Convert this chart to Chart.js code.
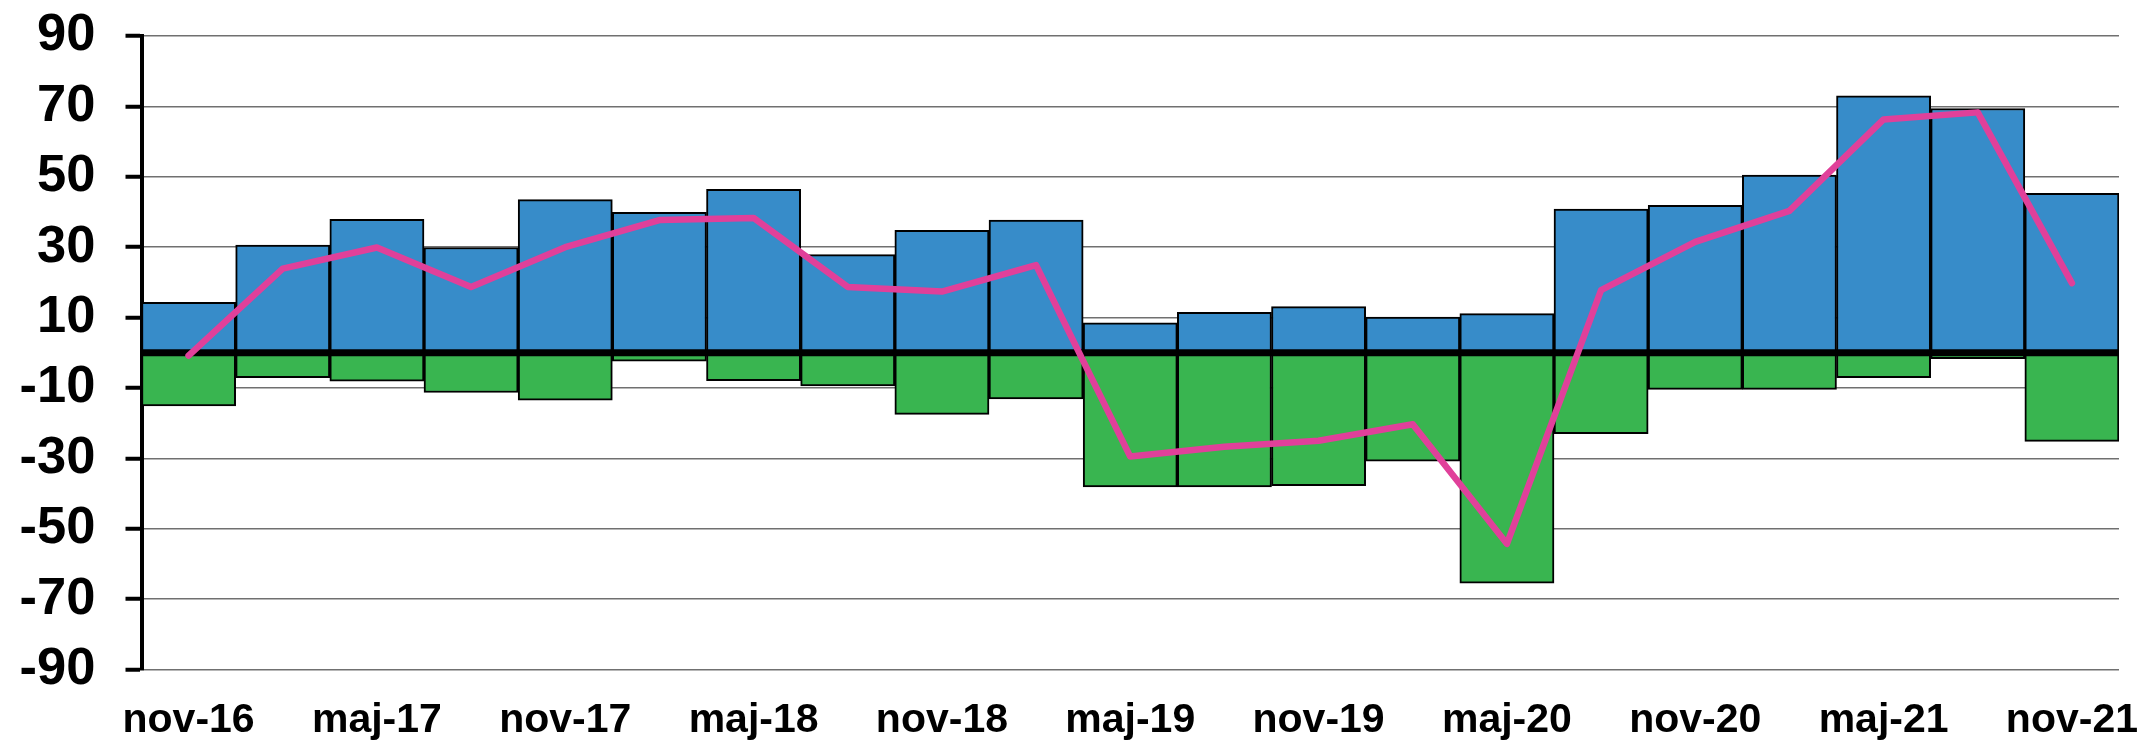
<!DOCTYPE html>
<html lang="da">
<head>
  <meta charset="UTF-8" />
  <title>Nettotal</title>
  <script src="https://cdn.jsdelivr.net/npm/chart.js"></script>
  <style>
    body { margin: 0; background: #fff; }
    #wrap { width: 2141px; height: 745px; }
  </style>
</head>
<body>
  <div id="wrap"><canvas id="chart" width="2141" height="745"></canvas></div>

  <script>
    // kvartaler, nov-16 .. nov-21
    const categories = [
      'nov-16', 'feb-17', 'maj-17', 'aug-17', 'nov-17', 'feb-18', 'maj-18',
      'aug-18', 'nov-18', 'feb-19', 'maj-19', 'aug-19', 'nov-19', 'feb-20',
      'maj-20', 'aug-20', 'nov-20', 'feb-21', 'maj-21', 'aug-21', 'nov-21'
    ];
    const positive = [14.3, 30.6, 37.9, 29.9, 43.5, 39.9, 46.4, 27.9, 34.8, 37.7, 8.5,
                      11.5, 13.1, 10.1, 11.1, 40.8, 41.9, 50.5, 73.0, 69.4, 45.3];
    const negative = [-15.1, -7.1, -8.1, -11.3, -13.5, -2.4, -7.9, -9.4, -17.5, -13.1, -38.1,
                      -38.1, -37.8, -30.8, -65.5, -23.0, -10.4, -10.4, -7.1, -1.7, -25.2];
    const net = [-0.8, 23.9, 29.9, 18.7, 30.0, 37.7, 38.3, 18.7, 17.4, 24.9, -29.5,
                 -26.7, -25.0, -20.3, -54.3, 17.8, 31.5, 40.3, 66.3, 68.3, 19.8];
    const yTicks = [-90, -70, -50, -30, -10, 10, 30, 50, 70, 90];

    const FONT = '"Liberation Sans", Arial, sans-serif';

    // tyk nul-linje over søjlerne, men under kurven
    const zeroLine = {
      id: 'zeroLine',
      beforeDatasetDraw(chart, args) {
        if (args.meta.type !== 'line') return;
        const { ctx, chartArea } = chart;
        const y = chart.scales.y.getPixelForValue(0);
        ctx.save();
        ctx.strokeStyle = '#000';
        ctx.lineWidth = 7;
        ctx.beginPath();
        ctx.moveTo(chartArea.left, y);
        ctx.lineTo(chartArea.right, y);
        ctx.stroke();
        ctx.restore();
      }
    };

    new Chart(document.getElementById('chart'), {
      type: 'bar',
      data: {
        labels: categories,
        datasets: [
          {
            type: 'line', data: net, stack: 'net', order: 0,
            borderColor: '#E0409A', borderWidth: 6.5, pointRadius: 0,
            borderCapStyle: 'round', borderJoinStyle: 'round', tension: 0, fill: false
          },
          {
            data: positive, stack: 'bars', order: 1,
            backgroundColor: '#378CC9', borderColor: '#000', borderWidth: 2, borderSkipped: false,
            barPercentage: 1, categoryPercentage: 1
          },
          {
            data: negative, stack: 'bars', order: 1,
            backgroundColor: '#39B550', borderColor: '#000', borderWidth: 2, borderSkipped: false,
            barPercentage: 1, categoryPercentage: 1
          }
        ]
      },
      options: {
        responsive: false,
        animation: false,
        layout: { padding: { top: 36, right: 22, bottom: 0, left: 0 } },
        plugins: { legend: { display: false }, tooltip: { enabled: false } },
        scales: {
          x: {
            stacked: true,
            grid: { display: false, drawTicks: false },
            border: { display: false },
            ticks: {
              autoSkip: false, maxRotation: 0, padding: 27,
              color: '#000', font: { family: FONT, size: 41, weight: 'bold' },
              callback: (v, i) => (i % 2 === 0 ? categories[i] : '')
            },
            afterFit: s => { s.height = 75.5; s.paddingLeft = 0; s.paddingRight = 0; }
          },
          y: {
            stacked: true,
            min: -90, max: 90,
            afterBuildTicks: s => { s.ticks = yTicks.map(v => ({ value: v })); },
            grid: { color: '#707070', lineWidth: 1.5, tickLength: 16, tickColor: '#000', tickWidth: 4 },
            border: { display: true, color: '#000', width: 4 },
            ticks: {
              padding: 30, color: '#000',
              font: { family: FONT, size: 52.5, weight: 'bold' }
            },
            afterFit: s => { s.width = 141.5; s.paddingTop = 0; s.paddingBottom = 0; }
          }
        }
      },
      plugins: [zeroLine]
    });
  </script>
</body>
</html>
